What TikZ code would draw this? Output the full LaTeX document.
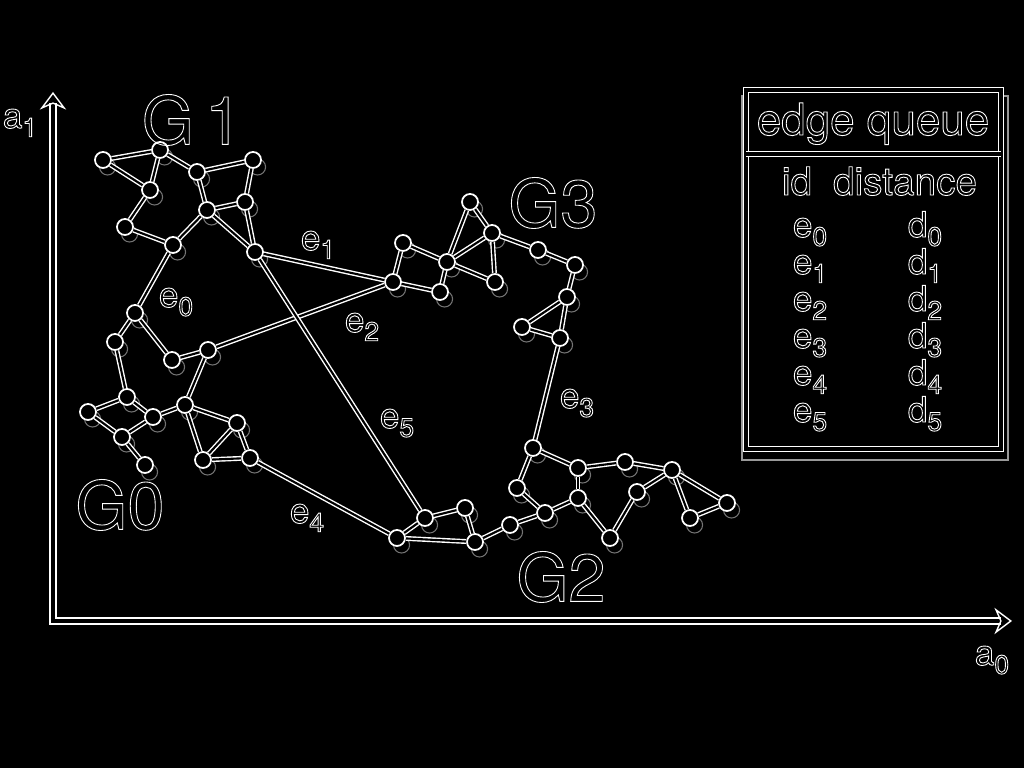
\documentclass[tikz,border=0pt]{standalone}
\usepackage{fontspec}
\setmainfont{TeX Gyre Heros}
\usetikzlibrary{arrows.meta}
\newcommand{\outl}[1]{\special{pdf:literal direct 1 Tr 0.25 w}#1\special{pdf:literal direct 0 Tr}}
\newcommand{\idx}[2]{\outl{#1\raisebox{-2.5pt}{\fontsize{7.5}{8}\selectfont #2}}}

\tikzset{
	ball/.style={circle, draw=white, fill=black, line width=0.5pt, minimum size=0.16cm, inner sep=0pt,
		preaction={draw=white!45!black, line width=0.3pt, transform canvas={shift={(1.3pt,-2pt)}}}},
	bond/.style={draw=white, double=black, line width=0.4pt, double distance=0.6pt},
	frame/.style={draw=white, double=black, line width=0.4pt, double distance=0.9pt},
	lbl/.style={text=white, font=\fontsize{10}{12}\selectfont, anchor=base, inner sep=0pt},
	glbl/.style={text=white, font=\fontsize{19}{21}\selectfont, inner sep=0pt}
}

\begin{document}
\begin{tikzpicture}[x=0.01cm, y=-0.01cm]
	\fill[black] (0,0) rectangle (1024,768);
	\useasboundingbox (0,0) rectangle (1024,768);

	% axes
	\coordinate (ytip) at (53,92);
	\coordinate (xtip) at (1012,621);
	\draw[frame, double distance=1.4pt, {Stealth[open,length=5pt,width=7.5pt]}-{Stealth[open,length=5pt,width=7.5pt]}] (ytip) |- (xtip);
	\node[lbl] (a1) at (20,128) {\idx{a}{1}};
	\node[lbl] (a0) at (992,665) {\idx{a}{0}};

	% G1
	\foreach \n/\x/\y in {a/103/160, b/160/150, c/197/172, d/253/160, e/150/190,
		f/245/202, g/207/210, h/125/227, i/173/245, j/255/252}{
		\node[ball] (g1\n) at (\x,\y) {};
	}
	% G0
	\foreach \n/\x/\y in {a/135/313, b/115/342, c/172/360, d/208/350, e/127/397,
		f/88/412, g/153/417, h/185/405, i/122/437, j/237/423, k/203/460, l/250/458, m/145/465}{
		\node[ball] (g0\n) at (\x,\y) {};
	}
	% G3
	\foreach \n/\x/\y in {a/470/202, b/403/243, c/492/233, d/447/262, e/538/250, f/393/282,
		g/440/292, h/495/282, i/575/265, j/567/297, k/522/327, l/560/338}{
		\node[ball] (g3\n) at (\x,\y) {};
	}
	% G2
	\foreach \n/\x/\y in {a/533/448, b/578/468, c/625/462, d/672/470, e/517/488, f/578/498,
		g/637/492, h/727/503, i/465/508, j/545/513, k/425/518, l/690/518, m/510/525,
		n/397/538, o/475/542, p/610/538}{
		\node[ball] (g2\n) at (\x,\y) {};
	}

	\foreach \a/\b in {g1a/g1b, g1a/g1e, g1b/g1e, g1b/g1c, g1c/g1d, g1c/g1g, g1d/g1f, g1f/g1g,
		g1f/g1j, g1g/g1j, g1g/g1i, g1e/g1h, g1h/g1i,
		g0a/g0b, g0a/g0c, g0c/g0d, g0d/g0h, g0b/g0e, g0e/g0f, g0e/g0g, g0f/g0i, g0i/g0g,
		g0g/g0h, g0i/g0m, g0h/g0j, g0h/g0k, g0j/g0k, g0j/g0l, g0k/g0l,
		g3a/g3d, g3a/g3c, g3b/g3f, g3b/g3d, g3d/g3c, g3d/g3h, g3c/g3h, g3c/g3e, g3e/g3i,
		g3i/g3j, g3j/g3k, g3j/g3l, g3k/g3l, g3f/g3g, g3d/g3g,
		g2a/g2e, g2a/g2b, g2b/g2c, g2b/g2f, g2c/g2d, g2d/g2g, g2d/g2h, g2d/g2l, g2h/g2l,
		g2g/g2p, g2f/g2p, g2e/g2j, g2j/g2f, g2j/g2m, g2m/g2o, g2o/g2i, g2i/g2k, g2k/g2n, g2n/g2o}{
		\draw[bond] (\a) -- (\b);
	}

	% edges between groups
	\draw[bond] (g1i) -- (g0a);
	\draw[bond] (g1j) -- (g3f);
	\draw[bond] (g0d) -- (g3f);
	\draw[bond] (g3l) -- (g2a);
	\draw[bond] (g0l) -- (g2n);
	\draw[bond] (g1j) -- (g2k);

	\node[lbl] (e0) at (176,307) {\idx{e}{0}};
	\node[lbl] (e1) at (318,250) {\idx{e}{1}};
	\node[lbl] (e2) at (362,332) {\idx{e}{2}};
	\node[lbl] (e3) at (577,408) {\idx{e}{3}};
	\node[lbl] (e4) at (307,523) {\idx{e}{4}};
	\node[lbl] (e5) at (397,428) {\idx{e}{5}};

	\node[glbl] (G1) at (192,120) {\outl{G\,1}};
	\node[glbl] (G0) at (120,505) {\outl{G0}};
	\node[glbl] (G3) at (553,203) {\outl{G3}};
	\node[glbl] (G2) at (561,577) {\outl{G2}};

	% edge queue
	\draw[white!60!black, line width=0.3pt] (742,96) rectangle (1008,460);
	\draw[frame, fill=black] (746,90) rectangle (1001,449);
	\draw[frame] (746,154) -- (1001,154);
	\node[lbl, font=\fontsize{12.5}{15}\selectfont] (title) at (873,135) {\outl{edge queue}};
	\node[lbl, font=\fontsize{11}{13}\selectfont] (hid) at (797,195) {\outl{id}};
	\node[lbl, font=\fontsize{11}{13}\selectfont] (hdist) at (905,195) {\outl{distance}};
	\foreach \i in {0,...,5}{
		\node[lbl] (qe\i) at (810,{237+37*\i}) {\idx{e}{\i}};
		\node[lbl] (qd\i) at (925,{237+37*\i}) {\idx{d}{\i}};
	}
\end{tikzpicture}
\end{document}
